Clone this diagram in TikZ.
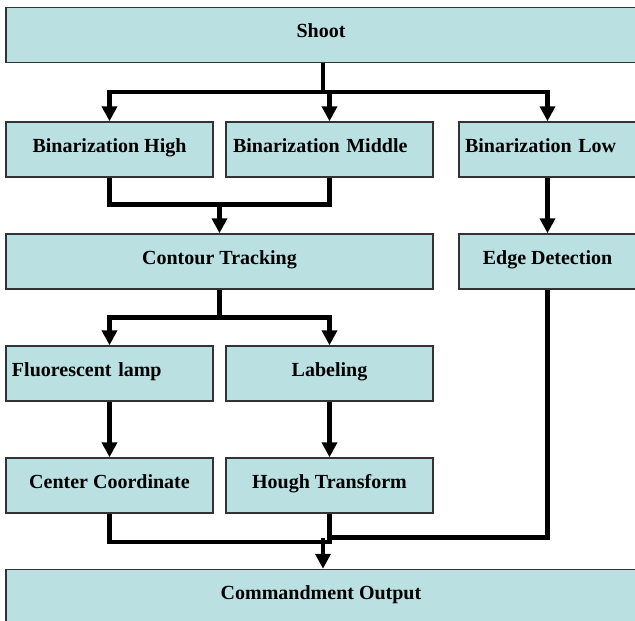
\documentclass[tikz,border=0pt]{standalone}
\usepackage{fontspec}
\setmainfont{Liberation Serif}
\usetikzlibrary{arrows.meta}
\definecolor{boxblue}{RGB}{186,224,226}
\tikzset{
	blk/.style={draw=black!80, line width=1.5pt, fill=boxblue, inner sep=0pt,
		minimum height=55pt, text height=12pt, text depth=7pt,
		font=\fontsize{20}{24}\selectfont\bfseries},
	link/.style={line width=4.5pt, line join=miter},
	flow/.style={link, -{Triangle[width=15pt,length=15pt]}}
}
\begin{document}
\begin{tikzpicture}[x=1pt,y=-1pt]
			\useasboundingbox (0,0) rectangle (635,621);
			\fill[white] (0,0) rectangle (635,621);
			\node[blk, minimum width=630pt] (shoot) at (321,35) {Shoot};
			\node[blk, minimum width=207pt] (binhigh) at (109.5,149.5) {Binarization High};
			\node[blk, minimum width=207pt, text width=193pt, align=left] (binmid) at (329.5,149.5) {Binarization Middle};
			\node[blk, minimum width=177pt, text width=165pt, align=left] (binlow) at (547.5,149.5) {Binarization Low};
			\node[blk, minimum width=427pt] (contour) at (219.5,261.5) {Contour Tracking};
			\node[blk, minimum width=177pt] (edge) at (547.5,261.5) {Edge Detection};
			\node[blk, minimum width=207pt, text width=195pt, align=left] (lamp) at (109.5,373.5) {Fluorescent lamp};
			\node[blk, minimum width=207pt] (label) at (329.5,373.5) {Labeling};
			\node[blk, minimum width=207pt] (center) at (109.5,485.5) {Center Coordinate};
			\node[blk, minimum width=207pt] (hough) at (329.5,485.5) {Hough Transform};
			\node[blk, minimum width=630pt] (output) at (321,597) {Commandment Output};
			% junctions
			\coordinate (s1) at (323,92);
			\coordinate (m1) at (219.5,204.5);
			\coordinate (m2) at (219.5,317.5);
			\coordinate (b1) at (329.5,542);
			\coordinate (b2) at (329.5,537.5);
			\coordinate (b3) at (323,537.5);
			\draw[link] (shoot.south -| s1) -- (s1);
			\draw[flow] (s1) -| (binhigh);
			\draw[flow] (s1) -| (binmid);
			\draw[flow] (s1) -| (binlow);
			\draw[link] (binhigh) |- (m1) -| (binmid);
			\draw[flow] (m1) -- (contour);
			\draw[flow] (binlow) -- (edge);
			\draw[link] (contour) -- (m2);
			\draw[flow] (m2) -| (lamp);
			\draw[flow] (m2) -| (label);
			\draw[flow] (lamp) -- (center);
			\draw[flow] (label) -- (hough);
			\draw[link] (center) |- (b1) -- (hough);
			\draw[link] (edge) |- (b2);
			\draw[flow] (b3) -- (b3 |- output.north);
		\end{tikzpicture}
\end{document}
